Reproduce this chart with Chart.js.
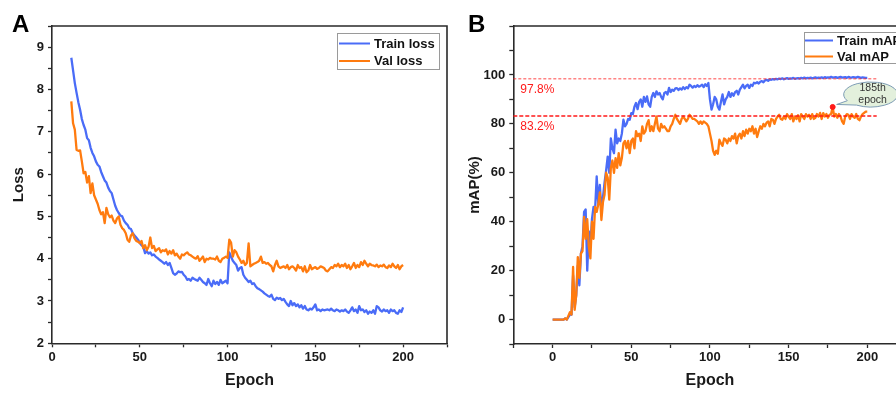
<!DOCTYPE html>
<html><head><meta charset="utf-8">
<script src="https://cdn.jsdelivr.net/npm/chart.js@4.4.0/dist/chart.umd.min.js"></script>
<style>
html,body{margin:0;padding:0;background:#fff;overflow:hidden;width:896px;height:394px;}
#wrap{position:relative;width:896px;height:394px;overflow:hidden;background:#fff;}
canvas{position:absolute;top:0;}
#cA{left:0;} #cB{left:455px;}
</style></head><body>
<div id="wrap"><canvas id="cA" width="455" height="394"></canvas><canvas id="cB" width="470" height="394"></canvas></div>
<script>
// ---------------- DATA ----------------
const lossStartEpoch = 11;
const trainLoss = [
8.75,8.45,8.15,7.92,7.70,7.52,7.30,7.16,7.05,6.85,
6.80,6.62,6.50,6.42,6.30,6.22,6.18,6.05,5.95,5.85,
5.80,5.68,5.60,5.55,5.40,5.25,5.15,5.08,5.02,5.00,
4.90,4.84,4.80,4.72,4.70,4.60,4.55,4.50,4.45,4.37,
4.32,4.28,4.13,4.18,4.12,4.15,4.08,4.10,4.05,4.02,
3.98,3.95,3.92,3.88,3.92,3.85,3.90,3.78,3.66,3.62,
3.65,3.70,3.68,3.69,3.62,3.58,3.50,3.52,3.48,3.55,
3.52,3.50,3.48,3.55,3.50,3.45,3.42,3.38,3.52,3.42,
3.35,3.48,3.40,3.45,3.38,3.50,3.42,3.45,3.48,3.42,
4.15,4.05,3.95,3.90,3.85,3.72,3.78,3.80,3.62,3.55,
3.50,3.45,3.48,3.40,3.42,3.35,3.30,3.28,3.25,3.22,
3.18,3.15,3.12,3.10,3.15,3.05,3.02,3.08,3.05,3.07,
3.02,3.05,2.98,2.92,2.88,3.00,2.90,2.95,2.88,2.92,
2.85,2.90,2.82,2.88,2.80,2.78,2.82,2.80,2.85,2.92,
2.78,2.80,2.76,2.80,2.78,2.79,2.80,2.78,2.82,2.78,
2.76,2.80,2.78,2.75,2.78,2.76,2.80,2.75,2.72,2.78,
2.85,2.76,2.80,2.72,2.88,2.78,2.80,2.74,2.78,2.70,
2.75,2.72,2.78,2.70,2.88,2.85,2.78,2.75,2.80,2.76,
2.78,2.72,2.80,2.76,2.78,2.72,2.70,2.78,2.74,2.85];
const valLoss = [
7.72,7.20,7.05,6.57,6.55,6.56,6.30,6.02,6.05,5.80,
5.95,5.55,5.78,5.50,5.40,5.30,5.15,5.05,5.10,4.84,
5.20,5.05,4.98,5.02,4.90,4.84,4.95,5.00,4.80,4.72,
4.68,4.60,4.45,4.40,4.55,4.60,4.48,4.42,4.40,4.37,
4.42,4.25,4.32,4.20,4.28,4.50,4.25,4.30,4.18,4.22,
4.25,4.15,4.20,4.18,4.22,4.10,4.18,4.12,4.20,4.08,
4.12,4.05,4.00,4.10,4.08,4.12,4.15,4.10,4.08,4.05,
4.02,4.00,4.06,3.95,4.00,4.05,3.92,4.00,3.98,4.02,
4.00,4.00,3.98,4.05,3.95,3.92,4.00,4.02,4.05,4.02,
4.45,4.38,4.05,4.20,4.15,4.05,3.98,3.90,3.95,3.85,
3.90,4.36,3.82,3.85,3.88,3.90,3.92,3.95,4.05,3.90,
3.92,3.88,3.90,3.85,3.82,3.70,3.85,3.95,3.82,3.78,
3.80,3.82,3.78,3.85,3.75,3.80,3.82,3.78,3.72,3.85,
3.78,3.80,3.70,3.82,3.68,3.72,3.85,3.75,3.78,3.80,
3.76,3.78,3.82,3.80,3.78,3.72,3.70,3.75,3.80,3.78,
3.85,3.82,3.88,3.80,3.85,3.82,3.88,3.78,3.85,3.75,
3.82,3.90,3.78,3.85,3.80,3.92,3.85,3.95,3.88,3.82,
3.88,3.85,3.84,3.82,3.86,3.80,3.84,3.82,3.86,3.80,
3.78,3.84,3.80,3.88,3.82,3.78,3.85,3.75,3.82,3.85];

const mapStartEpoch = 0;
const trainMAP = [
0,0,0,0,0,0,0,0,0.5,0,
1,2,2,18,5,10,22,14,27,30,
44,45,20,36,30,41,46,45,58.5,47.5,
55,45,50,56,61,66.6,60,74,70,68,
77.6,72,74,73,76,81.7,79,80,82,81.7,
84.4,84,87,88.5,86,89,90,87,91,89,
91.2,88,87,91,92.6,91,93.3,92,92.6,91,
90,92.6,93,92,94.7,93,94,93.5,94.5,94.6,
93.8,94.5,94,95,94.2,95,94.5,96,95.5,94.8,
95.5,95,95.8,95.2,95.5,96,95,96.2,95.5,96.7,
90,85.8,88,91,90,87,85.8,89,92,88,
90,91,93,91,92.5,91.5,93,93.5,92,94,
95,96,94.5,95.5,96,94.7,96,95.5,96.8,96.6,
97,96.5,97.2,97.5,97,97.8,98,97.6,98.2,98,
98.3,98.1,98.4,98.2,98.5,98.3,98.6,98.2,98.5,98.7,
98.4,98.6,98.5,98.8,98.4,98.6,98.7,98.5,98.8,98.6,
98.9,98.6,98.8,98.7,98.9,98.6,98.8,99,98.7,98.9,
98.8,99,98.7,99.1,98.8,99,98.9,99.2,98.9,99,
99.1,98.8,99,99.2,98.9,99,99.1,98.8,99.2,99,
98.9,99.1,99,98.9,99.2,99,98.8,99,98.9,98.8,
98.8];
const valMAP = [
0,0,0,0,0,0,0,0,0.5,0,
1.5,3,2,21.5,4,10,25.5,17,27,28,
42,33,41,30,25,40,33,46,44,47,
52,40.7,48,51,60,58,49,62,65,60,
66,62,68,63,66,72,73,70,73,68,
73,74,70,77,75,76,73,79,76,77,
80,81.5,77,79,77,80,83,78,77,80,
78.5,79,78,77,77,79,80,82,83.7,82,
81,80,82,83,82,81,82,83.7,83,82,
82,81.5,81,80,81,80,81,80.5,80,79,
76,73,69,67.3,69,67.8,73.5,72,71,74,
73.5,72,74,73,75,74,76,72,75,76,
74,77,75,77.6,76,78,77,79,76,78,
74.6,77,79,78,80,79,80.5,81,79,82,
81.7,80,82,83,83.7,82,81.7,83,82,84,
83,82,84,81,83,82,83.5,81,84,83,
82,84,83,83.7,82,84,82,82.5,84,83,
84.5,82,84.4,83,84,82.5,83.7,84,86.9,83,
84,82.5,84,83,81,80,83,84,83.7,82,
84,83,82.5,84,82,81.5,83,84,84.5,85,
85];

const refLevels = [98.4, 83.2];          // dashed reference lines (as drawn)
const refLabels = ['97.8%', '83.2%'];
const refSpan = [-25, 206];              // epoch range of dashed lines
const bestPoint = [178, 86.9];           // marked point (epoch, mAP)
const bubbleText = ['185th', 'epoch'];
const legendA = ['Train loss', 'Val loss'];
const legendB = ['Train mAP', 'Val mAP'];

// ---------------- STYLE ----------------
const FONT = '"Liberation Sans", Arial, Helvetica, sans-serif';
const BLUE = '#4a6cf7';
const ORANGE = '#ff7b0f';
const RED = '#ff1a1a';
const AX = '#2a2a2a';

function toXY(arr, start){ return arr.map((v,i)=>({x:start+i, y:v})); }

function lineDS(label, arr, start, color, order){
  return {label, data: toXY(arr,start), borderColor: color, backgroundColor: color,
    borderWidth: 2.3, pointRadius: 0, tension: 0, order, borderJoinStyle:'round'};
}

function axisX(min, max, h){
  return {type:'linear', min, max,
    ticks:{stepSize:25, autoSkip:false, maxRotation:0, color:'#1a1a1a', padding:2,
      font:{family:FONT, size:13, weight:'bold'},
      callback:v => (v%50===0 && v>=0 && v<=200) ? String(v) : ''},
    grid:{drawOnChartArea:false, drawTicks:true, tickLength:4, tickColor:AX, tickWidth:1.3},
    border:{display:true, color:AX, width:1.6},
    title:{display:true, text:'Epoch', color:'#1a1a1a',
      font:{family:FONT, size:16, weight:'bold'}, padding:{top:0, bottom:4}},
    afterFit:s=>{ s.height = h; }};
}
function axisY(min, max, step, cb, title, w, tpad){
  return {type:'linear', min, max,
    ticks:{stepSize:step, autoSkip:false, color:'#1a1a1a', padding:4,
      font:{family:FONT, size:13, weight:'bold'}, callback:cb},
    grid:{drawOnChartArea:false, drawTicks:true, tickLength:4, tickColor:AX, tickWidth:1.3},
    border:{display:true, color:AX, width:1.6},
    title:{display:true, text:title, color:'#1a1a1a',
      font:{family:FONT, size:15, weight:'bold'}, padding:{top:tpad, bottom:0}},
    afterFit:s=>{ s.width = w; }};
}

const framePlugin = {
  id:'frame',
  afterDraw(chart){
    const {ctx, chartArea:a} = chart;
    ctx.save();
    ctx.strokeStyle = AX; ctx.lineWidth = 1.6;
    ctx.beginPath();
    ctx.moveTo(a.left, a.top); ctx.lineTo(a.right, a.top); ctx.lineTo(a.right, a.bottom);
    ctx.stroke();
    const o = chart.options.plugins.extra;
    ctx.fillStyle = '#000';
    ctx.font = 'bold 24px ' + FONT;
    ctx.textBaseline = 'alphabetic';
    ctx.fillText(o.letter, o.letterX, 32);
    const L = o.legend;
    ctx.fillStyle = '#fff';
    ctx.fillRect(L.x, L.y, L.w, L.h);
    ctx.strokeStyle = '#9a9a9a'; ctx.lineWidth = 1;
    ctx.strokeRect(L.x+0.5, L.y+0.5, L.w, L.h);
    const cols = [BLUE, ORANGE];
    L.items.forEach((t,i)=>{
      const yy = L.rows[i];
      ctx.strokeStyle = cols[i]; ctx.lineWidth = 2;
      ctx.beginPath(); ctx.moveTo(L.lx0, yy); ctx.lineTo(L.lx1, yy); ctx.stroke();
      ctx.fillStyle = '#111'; ctx.font = 'bold 13px ' + FONT; ctx.textBaseline = 'middle';
      ctx.fillText(t, L.tx, yy+0.5);
    });
    ctx.restore();
  }
};

const annoPlugin = {
  id:'anno',
  afterDatasetsDraw(chart){
    if (!chart.options.plugins.extra.anno) return;
    const {ctx, chartArea:a, scales} = chart;
    const ys = scales.y, xs = scales.x;
    ctx.save();
    ctx.fillStyle = RED; ctx.font = '12px ' + FONT; ctx.textBaseline = 'middle';
    refLevels.forEach((lv,i)=>{
      ctx.fillText(refLabels[i], a.left + 7, ys.getPixelForValue(lv) + 11);
    });
    const px = xs.getPixelForValue(bestPoint[0]), py = ys.getPixelForValue(bestPoint[1]);
    const cx = px + 38, cy = py - 12.5, rx = 27, ry = 12.5;
    const a1 = 150*Math.PI/180, a2 = 122*Math.PI/180;
    ctx.beginPath();
    ctx.ellipse(cx, cy, rx, ry, 0, a1, a2 + 2*Math.PI);
    ctx.lineTo(px + 4, py - 2.5);
    ctx.closePath();
    ctx.fillStyle = '#e3f0dc'; ctx.fill();
    ctx.strokeStyle = '#7d9cb4'; ctx.lineWidth = 1; ctx.stroke();
    ctx.fillStyle = '#333'; ctx.font = '10.5px ' + FONT; ctx.textAlign = 'center';
    ctx.fillText(bubbleText[0], cx + 2, cy - 6);
    ctx.fillText(bubbleText[1], cx + 2, cy + 6);
    ctx.restore();
  }
};

// ---------------- CHART A ----------------
new Chart(document.getElementById('cA'), {
  type:'line',
  data:{datasets:[
    lineDS(legendA[1], valLoss, lossStartEpoch, ORANGE, 1),
    lineDS(legendA[0], trainLoss, lossStartEpoch, BLUE, 2)
  ]},
  options:{
    responsive:false, animation:false, devicePixelRatio:1,
    layout:{padding:{left:0, right:8, top:26, bottom:0}},
    plugins:{legend:{display:false}, tooltip:{enabled:false},
      extra:{letter:'A', letterX:12, anno:false,
        legend:{x:337, y:33, w:102, h:36, lx0:339, lx1:370, tx:374, rows:[43.5,61], items:legendA}}},
    scales:{
      x: axisX(0, 225, 50.7),
      y: axisY(2, 9.5, 0.5, v => Number.isInteger(v) ? String(v) : '', 'Loss', 52, 10)
    }
  },
  plugins:[framePlugin]
});

// ---------------- CHART B ----------------
new Chart(document.getElementById('cB'), {
  type:'line',
  data:{datasets:[
    {label:'best', data:[{x:bestPoint[0], y:bestPoint[1]}], showLine:false,
      pointRadius:2.5, pointBackgroundColor:RED, pointBorderColor:RED, order:0},
    {label:'ref1', data:refSpan.map(x=>({x, y:refLevels[0]})), borderColor:'rgba(255,40,40,0.85)',
      borderWidth:1, borderDash:[3,2], pointRadius:0, order:1},
    {label:'ref2', data:refSpan.map(x=>({x, y:refLevels[1]})), borderColor:RED,
      borderWidth:1.5, borderDash:[4,2], pointRadius:0, order:1},
    lineDS(legendB[1], valMAP, mapStartEpoch, ORANGE, 3),
    lineDS(legendB[0], trainMAP, mapStartEpoch, BLUE, 4)
  ]},
  options:{
    responsive:false, animation:false, devicePixelRatio:1,
    layout:{padding:{left:0, right:18.4, top:26, bottom:0}},
    plugins:{legend:{display:false}, tooltip:{enabled:false},
      extra:{letter:'B', letterX:13, anno:true,
        legend:{x:349, y:32, w:130, h:31, lx0:350, lx1:378, tx:382, rows:[40.5,56.5], items:legendB}}},
    scales:{
      x: axisX(-25, 225, 50),
      y: axisY(-10, 120, 10, v => (v%20===0 && v>=0 && v<=100) ? String(v) : '', 'mAP(%)', 58.3, 11)
    }
  },
  plugins:[annoPlugin, framePlugin]
});
</script>
</body></html>
